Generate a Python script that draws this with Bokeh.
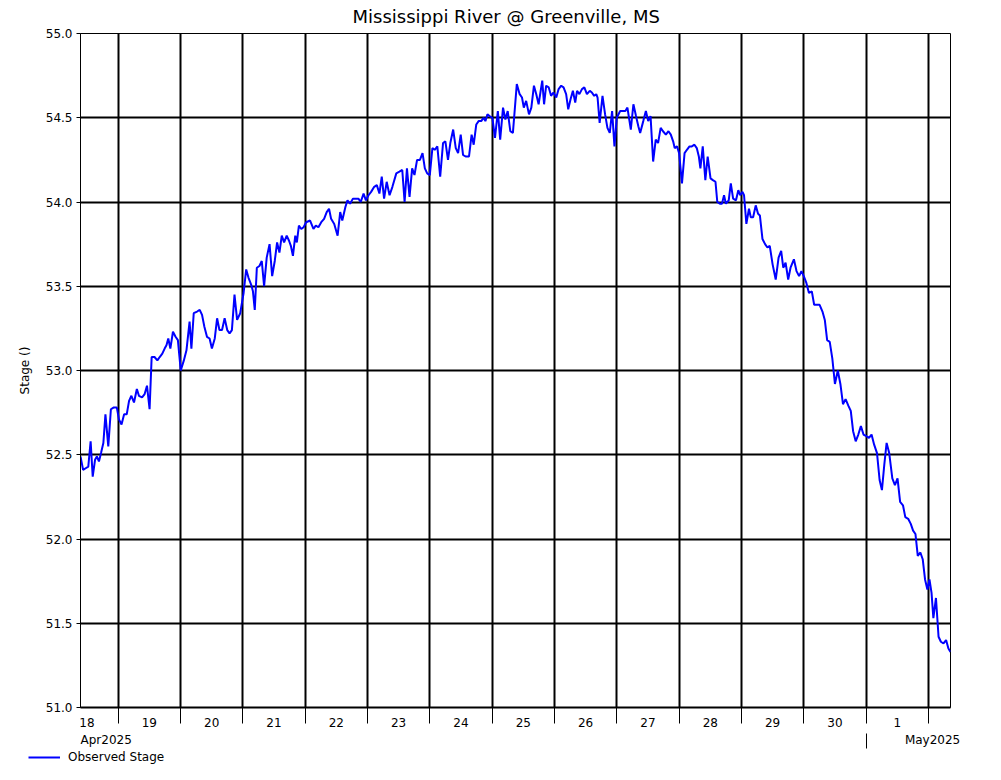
from bokeh.plotting import figure
from bokeh.models import (Range1d, FixedTicker, LinearAxis, Legend, LegendItem,
                          NumeralTickFormatter)
from bokeh.embed import file_html
from bokeh.resources import INLINE

hours = [9.5, 10.5, 11.5, 12.5, 13.4, 14.2, 15.1, 15.8, 16.6, 17.4, 18.3, 19.1, 20.2, 21.2, 22.2, 23.5,
         24.3, 25.3, 26.3, 27.3, 28.2, 29.1, 30.1, 31.2, 32.0, 33.2, 34.2, 35.1, 36.1, 36.9, 38.0, 39.1,
         40.0, 41.0, 41.9, 42.6, 43.3, 44.1, 45.1, 46.1, 47.0, 48.1, 49.3, 50.3, 51.5, 52.2, 53.1, 54.4,
         55.4, 56.3, 57.2, 58.2, 59.2, 60.1, 61.2, 62.1, 63.0, 64.0, 65.0, 66.0, 66.9, 67.8, 68.8, 69.8,
         71.0, 72.3, 73.3, 74.2, 75.2, 75.9, 76.6, 77.4, 78.4, 79.3, 80.2, 81.2, 82.3, 83.3, 84.3, 85.2,
         86.1, 87.0, 87.9, 88.9, 89.8, 90.5, 91.3, 92.2, 92.8, 93.6, 94.5, 95.4, 96.4, 97.9, 99.2, 100.1,
         101.1, 102.2, 103.3, 104.3, 105.2, 106.0, 107.2, 108.5, 109.5, 110.3, 111.5, 112.3, 113.3, 114.4,
         115.6, 116.5, 117.4, 118.5, 119.4, 120.4, 121.4, 122.6, 123.6, 124.6, 125.5, 126.4, 127.4, 128.5,
         129.6, 131.1, 132.3, 133.4, 134.3, 135.2, 136.2, 137.2, 138.1, 139.1, 140.2, 141.2, 142.1, 143.0,
         144.0, 145.0, 145.9, 146.9, 148.0, 149.1, 150.0, 151.0, 151.9, 153.0, 154.0, 154.9, 155.9, 156.8,
         157.8, 159.1, 160.1, 160.9, 161.9, 162.8, 163.8, 164.7, 165.4, 166.2, 167.0, 168.1, 169.1, 170.2,
         171.1, 172.2, 173.1, 174.0, 175.0, 176.0, 177.5, 178.6, 179.5, 180.2, 181.1, 182.2, 183.1, 184.1,
         185.0, 185.9, 187.3, 188.0, 188.8, 189.8, 190.7, 191.6, 192.7, 193.6, 194.6, 195.5, 196.5, 197.3,
         198.2, 199.1, 200.0, 200.7, 201.6, 202.6, 203.5, 204.5, 205.6, 206.4, 207.3, 208.1, 208.6, 209.4,
         210.5, 211.5, 212.4, 213.3, 214.2, 215.1, 216.0, 217.3, 218.3, 219.3, 220.1, 221.4, 222.4, 223.4,
         224.3, 225.0, 226.2, 227.2, 228.1, 229.0, 230.0, 231.0, 231.9, 232.9, 233.8, 234.9, 235.9, 236.8,
         237.7, 238.3, 239.2, 240.0, 241.1, 242.1, 243.0, 244.0, 244.9, 245.9, 246.8, 247.6, 248.2, 249.1,
         250.1, 251.0, 252.1, 253.0, 254.0, 254.7, 255.7, 256.5, 257.3, 258.0, 259.1, 259.9, 260.8, 261.9,
         262.8, 263.5, 264.4, 265.0, 265.9, 266.9, 267.6, 268.5, 269.5, 270.4, 271.1, 272.1, 273.1, 274.0,
         274.9, 276.0, 277.2, 278.3, 279.3, 280.1, 281.0, 282.0, 282.9, 284.2, 285.2, 286.2, 287.1, 288.0,
         289.0, 290.0, 291.1, 292.0, 293.1, 294.1, 295.2, 296.1, 297.0, 298.0, 299.0, 300.0, 301.1, 302.1,
         303.1, 304.1, 305.2, 306.1, 307.0, 308.0, 309.0, 310.0, 311.0, 312.1, 313.1, 314.1, 315.1, 316.2,
         317.2, 318.1, 319.0, 319.9, 320.9, 322.1, 323.1, 324.1, 325.1, 326.2, 327.1, 328.2, 329.2, 330.1,
         331.0, 331.9, 332.9, 333.8, 334.7, 335.6, 336.4, 337.2, 337.9, 338.9, 339.9, 340.8, 341.8, 342.8,
         343.7, 344.5]

# Observed stage (ft)
stage = [52.49, 52.41, 52.42, 52.43, 52.58, 52.37, 52.47, 52.49, 52.46, 52.51, 52.57, 52.74, 52.55, 52.77, 52.78, 52.78,
         52.71, 52.68, 52.74, 52.74, 52.82, 52.85, 52.81, 52.89, 52.85, 52.84, 52.86, 52.91, 52.77, 53.08, 53.08, 53.06,
         53.08, 53.10, 53.13, 53.15, 53.19, 53.13, 53.23, 53.20, 53.18, 53.00, 53.06, 53.12, 53.29, 53.13, 53.34, 53.35,
         53.36, 53.33, 53.26, 53.20, 53.19, 53.13, 53.19, 53.31, 53.24, 53.24, 53.31, 53.24, 53.22, 53.24, 53.45, 53.30,
         53.34, 53.46, 53.60, 53.55, 53.51, 53.47, 53.36, 53.61, 53.62, 53.65, 53.50, 53.67, 53.75, 53.56, 53.65, 53.76,
         53.70, 53.80, 53.76, 53.80, 53.77, 53.74, 53.68, 53.80, 53.76, 53.86, 53.84, 53.85, 53.88, 53.89, 53.84, 53.86,
         53.85, 53.88, 53.90, 53.94, 53.96, 53.90, 53.87, 53.80, 53.94, 53.89, 53.97, 54.01, 53.99, 54.02,
         54.02, 54.02, 54.00, 54.05, 54.01, 54.04, 54.06, 54.09, 54.10, 54.05, 54.15, 54.02, 54.12, 54.04,
         54.09, 54.17, 54.18, 54.19, 54.00, 54.20, 54.03, 54.20, 54.16, 54.25, 54.25, 54.29, 54.20, 54.17,
         54.16, 54.32, 54.31, 54.33, 54.15, 54.35, 54.36, 54.25, 54.35, 54.43, 54.32, 54.29, 54.40, 54.28,
         54.27, 54.27, 54.40, 54.34, 54.46, 54.48, 54.48, 54.50, 54.48, 54.52, 54.51, 54.50, 54.38, 54.54,
         54.37, 54.56, 54.49, 54.54, 54.42, 54.41, 54.70, 54.64, 54.62, 54.56, 54.60, 54.52, 54.56, 54.69,
         54.64, 54.58, 54.72, 54.58, 54.69, 54.68, 54.63, 54.65, 54.62, 54.67, 54.69, 54.68, 54.64, 54.55,
         54.61, 54.66, 54.59, 54.66, 54.64, 54.67, 54.68, 54.64, 54.66, 54.65, 54.63, 54.64, 54.62, 54.47,
         54.63, 54.52, 54.44, 54.41, 54.54, 54.33, 54.50, 54.54, 54.54, 54.54, 54.56, 54.43, 54.58, 54.51,
         54.45, 54.41, 54.48, 54.54, 54.48, 54.51, 54.24, 54.37, 54.35, 54.44, 54.42, 54.40, 54.42, 54.40,
         54.36, 54.32, 54.33, 54.29, 54.11, 54.29, 54.31, 54.33, 54.33, 54.34, 54.32, 54.27, 54.20, 54.33,
         54.13, 54.27, 54.14, 54.13, 54.12, 54.00, 53.99, 53.99, 54.04, 53.99, 54.01, 54.11, 54.02, 54.01,
         54.07, 54.04, 54.06, 54.04, 53.87, 53.96, 53.91, 53.91, 53.98, 53.93, 53.92, 53.78, 53.75, 53.73,
         53.74, 53.63, 53.54, 53.67, 53.71, 53.61, 53.64, 53.54, 53.61, 53.66, 53.59, 53.56, 53.59, 53.56,
         53.52, 53.46, 53.47, 53.39, 53.39, 53.39, 53.35, 53.30, 53.18, 53.17, 53.07, 52.92, 53.00, 52.92,
         52.80, 52.83, 52.79, 52.76, 52.64, 52.58, 52.62, 52.67, 52.62, 52.61, 52.60, 52.62, 52.56, 52.51,
         52.35, 52.29, 52.44, 52.57, 52.51, 52.36, 52.32, 52.36, 52.22, 52.20, 52.13, 52.12, 52.09, 52.05,
         52.03, 51.90, 51.92, 51.88, 51.76, 51.70, 51.76, 51.68, 51.53, 51.65, 51.42, 51.39, 51.38, 51.40,
         51.35, 51.33]

day_names = ["18", "19", "20", "21", "22", "23", "24", "25", "26", "27", "28", "29", "30", "1"]
day_label_hours = [12, 36, 60, 84, 108, 132, 156, 180, 204, 228, 252, 276, 300, 324]
day_boundaries = [24, 48, 72, 96, 120, 144, 168, 192, 216, 240, 264, 288, 312, 336]
month_names = ["Apr2025", "May2025"]
month_label_hours = [19.4, 337.6]
month_boundaries = [312]
y_ticks = [51.0, 51.5, 52.0, 52.5, 53.0, 53.5, 54.0, 54.5, 55.0]
y_grid = [51.0, 51.5, 52.0, 52.5, 53.0, 53.5, 54.0, 54.5]
series_name = "Observed Stage"

FONT = "DejaVu Sans"
LINE_COLOR = "#0000FF"

p = figure(width=985, height=749, output_backend="svg", toolbar_location=None,
           x_range=Range1d(hours[0], hours[-1]), y_range=Range1d(51.0, 55.0),
           min_border_left=80, min_border_right=35, min_border_top=33, min_border_bottom=40,
           title="Mississippi River @ Greenville, MS")
p.background_fill_color = "white"
p.border_fill_color = "white"
p.outline_line_color = "black"
p.outline_line_width = 1

p.title.align = "left"
p.title.offset = 272
p.title.vertical_align = "top"
p.title.text_font = FONT
p.title.text_font_size = "18px"
p.title.text_font_style = "normal"
p.title.text_color = "black"
p.title.standoff = 10

# grids
p.xgrid.ticker = FixedTicker(ticks=day_boundaries)
p.ygrid.ticker = FixedTicker(ticks=y_grid)
for g in (p.xgrid[0], p.ygrid[0]):
    g.grid_line_color = "black"
    g.grid_line_width = 2
    g.grid_line_alpha = 1.0

# y axis
ya = p.yaxis[0]
ya.ticker = FixedTicker(ticks=y_ticks)
ya.formatter = NumeralTickFormatter(format="0.0")
ya.axis_label = "Stage ()"
ya.axis_label_text_font = FONT
ya.axis_label_text_font_size = "12px"
ya.axis_label_text_font_style = "normal"
ya.axis_label_text_color = "black"
ya.axis_label_standoff = 11
ya.major_label_text_font = FONT
ya.major_label_text_font_size = "12px"
ya.major_label_text_color = "black"
ya.major_label_standoff = 4
ya.major_tick_out = 4
ya.major_tick_in = 0
ya.minor_tick_line_color = None
ya.axis_line_color = "black"
ya.major_tick_line_color = "black"

# x axis: day labels centred between day boundaries
xa = p.xaxis[0]
xa.ticker = FixedTicker(ticks=day_label_hours, minor_ticks=day_boundaries)
xa.major_label_overrides = {h: n for h, n in zip(day_label_hours, day_names)}
xa.major_tick_line_color = None
xa.major_tick_out = 0
xa.major_tick_in = 0
xa.minor_tick_line_color = "black"
xa.minor_tick_out = 16
xa.minor_tick_in = 0
xa.major_label_standoff = -6
xa.major_label_text_font = FONT
xa.major_label_text_font_size = "12px"
xa.major_label_text_color = "black"
xa.axis_line_color = "black"
xa.axis_line_width = 2

# second x axis: months
ma = LinearAxis(ticker=FixedTicker(ticks=month_label_hours, minor_ticks=month_boundaries))
ma.major_label_overrides = {h: n for h, n in zip(month_label_hours, month_names)}
ma.axis_line_color = None
ma.major_tick_line_color = None
ma.major_tick_out = 0
ma.major_tick_in = 0
ma.minor_tick_line_color = "black"
ma.minor_tick_out = 19
ma.minor_tick_in = -4
ma.major_label_standoff = -16
ma.major_label_text_font = FONT
ma.major_label_text_font_size = "12px"
ma.major_label_text_color = "black"
p.add_layout(ma, "below")

p.line(hours, stage, line_color=LINE_COLOR, line_width=2)

# legend strip below the chart (its own small figure holding the legend)
lg = figure(width=985, height=15, output_backend="svg", toolbar_location=None,
            x_range=Range1d(0, 1), y_range=Range1d(0, 1),
            x_axis_location=None, y_axis_location=None, title=None,
            min_border_left=0, min_border_right=0, min_border_top=0, min_border_bottom=0)
lg.outline_line_color = None
lg.xgrid.visible = False
lg.ygrid.visible = False
lg.background_fill_color = "white"
lg.border_fill_color = "white"
r2 = lg.line(hours, stage, line_color=LINE_COLOR, line_width=2)
legend = Legend(items=[LegendItem(label=series_name, renderers=[r2])],
                location=(28, 0), orientation="horizontal",
                border_line_color=None, background_fill_alpha=0.0,
                padding=0, margin=0, spacing=0,
                glyph_width=32, glyph_height=14, label_height=14, label_standoff=8,
                label_text_font=FONT, label_text_font_size="12px",
                label_text_color="black")
lg.add_layout(legend)

# two separate roots, stacked on the page (no frame alignment between them)
open("out.html", "w").write(file_html([p, lg], INLINE))
